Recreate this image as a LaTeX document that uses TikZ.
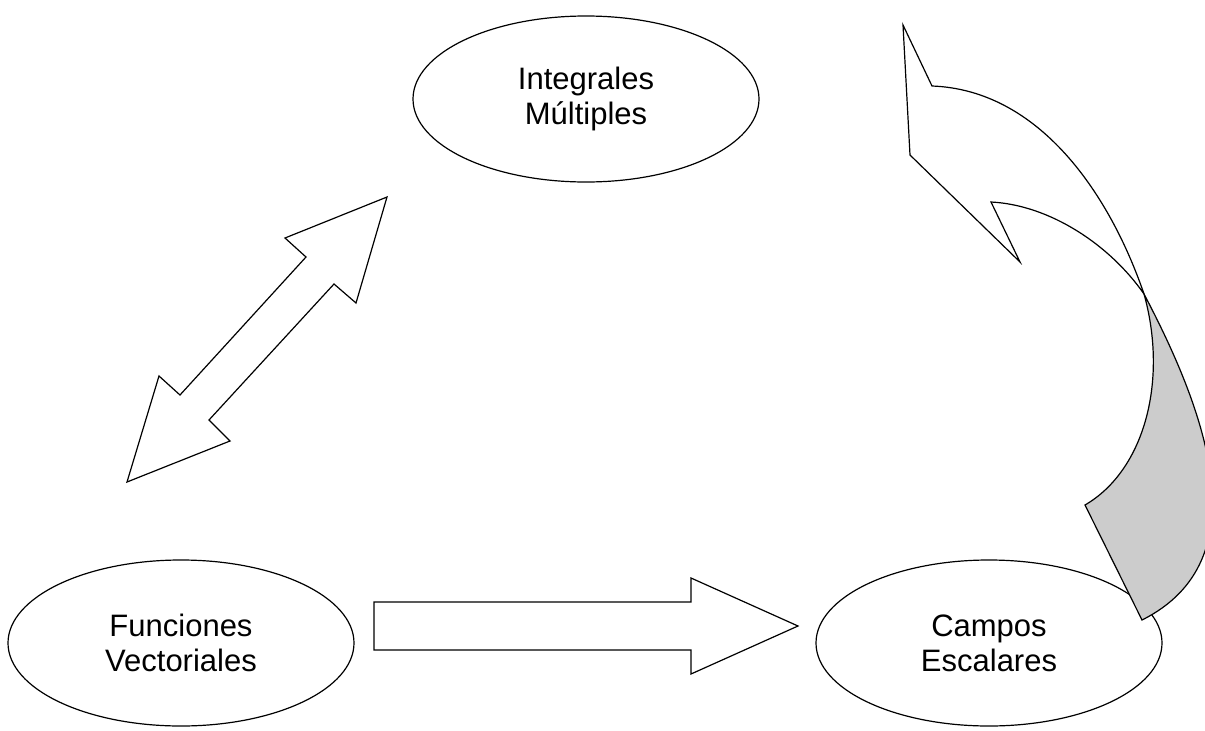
\documentclass[tikz,border=0pt]{standalone}
\usepackage{fontspec}
\setmainfont{Liberation Sans}
\usepackage{tikz}
\usetikzlibrary{shapes.geometric}
\definecolor{backgray}{gray}{0.8}

\begin{document}
\begin{tikzpicture}[x=1pt, y=-1pt, line width=1.2pt,
	concept/.style={ellipse, draw, minimum width=346pt, minimum height=166pt, inner sep=0pt, align=center, font=\fontsize{31}{35}\selectfont},
	blockarrow/.style={draw, fill=white}]
	\useasboundingbox (0,0) rectangle (1205,731);
	\node (integrales) at (586,99) [concept] {Integrales\\Múltiples};
	\node (funciones) at (181,643) [concept] {Funciones\\Vectoriales};
	\node (campos) at (989,643) [concept] {Campos\\Escalares};
	\draw[blockarrow] (387,197) -- (285,238) -- (306,257) -- (180,395) -- (159,376)
		-- (127,482) -- (230,441) -- (209,420) -- (334,284) -- (356,303) -- cycle;
	\draw[blockarrow] (374,602) -- (691,602) -- (691,578) -- (798,626)
		-- (691,674) -- (691,650) -- (374,650) -- cycle;
	\draw[blockarrow] (903,25) -- (932,86) .. controls (1040,90) and (1110,195) .. (1144,294)
		.. controls (1110,245) and (1050,205) .. (991,202) -- (1020,262) -- (910,155) -- cycle;
	\draw[blockarrow, fill=backgray] (1144,294) .. controls (1168,380) and (1145,470) .. (1085,505)
		-- (1142,620) .. controls (1262,560) and (1205,410) .. (1144,294) -- cycle;
\end{tikzpicture}
\end{document}
